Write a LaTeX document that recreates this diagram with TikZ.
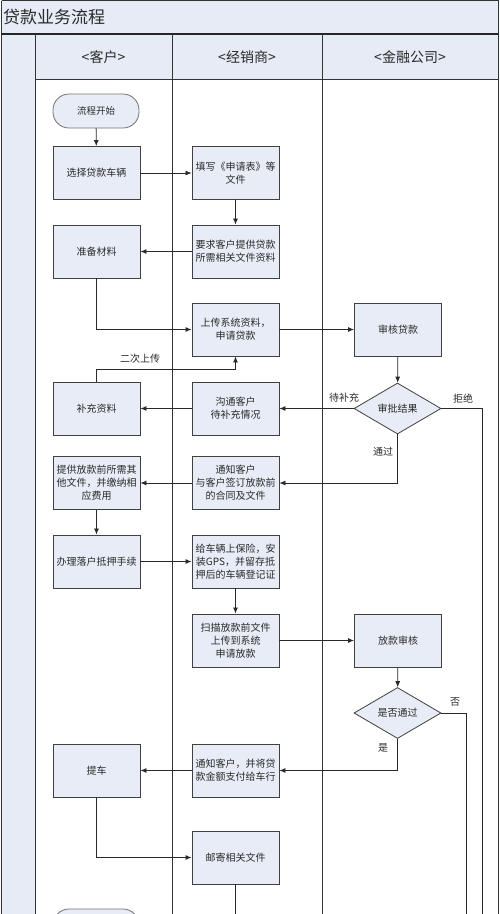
\documentclass[tikz,border=0pt]{standalone}
\usepackage{fontspec}
\setmainfont{Noto Sans CJK SC}
\usetikzlibrary{arrows.meta,shapes.geometric}
\definecolor{lanefill}{HTML}{E6EBF6}
\definecolor{boxfill}{HTML}{E8ECF6}
\definecolor{boxdraw}{HTML}{404040}
\definecolor{ink}{HTML}{2A2A2A}
\tikzset{
  proc/.style={draw=boxdraw, fill=boxfill, line width=0.9pt, minimum width=87pt, minimum height=53pt, inner sep=1pt, align=center, font=\fontsize{10}{13}\selectfont, text=ink},
  dec/.style={diamond, draw=boxdraw, fill=boxfill, line width=0.8pt, minimum width=87pt, minimum height=51pt, inner sep=0pt, aspect=1.7, font=\fontsize{10}{12}\selectfont, text=ink},
  term/.style={draw=black!55, fill=boxfill, line width=0.8pt, rounded corners=16pt, minimum width=86pt, minimum height=34pt, inner sep=0pt, font=\fontsize{9.5}{12}\selectfont, text=ink},
  arr/.style={draw=ink, line width=0.8pt, -{Latex[length=6pt,width=5pt]}},
  conn/.style={draw=ink, line width=0.8pt},
  lbl/.style={font=\fontsize{10}{12}\selectfont, text=ink, inner sep=0pt},
  lanehead/.style={font=\fontsize{14}{16}\selectfont, text=ink},
  laneline/.style={draw=black!80, line width=1pt}
}
\begin{document}
\begin{tikzpicture}[x=1pt,y=-1pt]
\useasboundingbox (0,0) rectangle (500,914);
\clip (0,0) rectangle (500,914);
\fill[white] (0,0) rectangle (500,914);
% title bar and lanes
\fill[lanefill] (1,0) rectangle (499,34);
\fill[lanefill] (2,34) rectangle (35,930);
\fill[lanefill] (35,34) rectangle (498,79);
\node[anchor=west, font=\fontsize{17}{20}\selectfont, text=ink, inner sep=0pt] (title) at (3,17) {贷款业务流程};
\draw[laneline] (1.5,0.5) -- (498.5,0.5);
\draw[laneline] (1.5,0.5) -- (1.5,930);
\draw[laneline] (498.5,0.5) -- (498.5,930);
\draw[draw=black!85, line width=1.4pt] (1,34) -- (499,34);
\draw[laneline] (35,79) -- (498,79);
\draw[laneline] (35,34) -- (35,930);
\draw[laneline] (172,34) -- (172,930);
\draw[laneline] (322,34) -- (322,930);
\node[lanehead] (h1) at (103.5,57) {<客户>};
\node[lanehead] (h2) at (247,57) {<经销商>};
\node[lanehead] (h3) at (410,57) {<金融公司>};
% nodes
\node[term] (start) at (96,111) {流程开始};
\node[proc] (n1) at (96.5,173) {选择贷款车辆};
\node[proc] (n2) at (235.5,173) {填写《申请表》等\\文件};
\node[proc] (n3) at (235.5,251.5) {要求客户提供贷款\\所需相关文件资料};
\node[proc] (n4) at (96.5,251.5) {准备材料};
\node[proc] (n5) at (235.5,329.5) {上传系统资料，\\申请贷款};
\node[proc] (n6) at (398,329.5) {审核贷款};
\node[dec] (d1) at (397.5,408.5) {审批结果};
\node[proc] (n7) at (235.5,408.5) {沟通客户\\待补充情况};
\node[proc] (n8) at (96.5,408.5) {补充资料};
\node[proc] (n9) at (96.5,483) {提供放款前所需其\\他文件，并缴纳相\\应费用};
\node[proc] (n10) at (235.5,483) {通知客户\\与客户签订放款前\\的合同及文件};
\node[proc] (n11) at (96.5,561.5) {办理落户抵押手续};
\node[proc] (n12) at (235.5,561.5) {给车辆上保险，安\\装GPS，并留存抵\\押后的车辆登记证};
\node[proc] (n13) at (235.5,640.5) {扫描放款前文件\\上传到系统\\申请放款};
\node[proc] (n14) at (398,640.5) {放款审核};
\node[dec] (d2) at (397.5,713) {是否通过};
\node[proc] (n15) at (235.5,770.5) {通知客户，并将贷\\款金额支付给车行};
\node[proc] (n16) at (96.5,770.5) {提车};
\node[proc] (n17) at (235.5,857.5) {邮寄相关文件};
\node[term] (endn) at (96,926) {};
\coordinate (b1) at (235.5,940);
\coordinate (b2) at (482,940);
\coordinate (b3) at (466,940);
% connectors
\draw[arr] (start) -- (n1);
\draw[arr] (n1) -- (n2);
\draw[arr] (n2) -- (n3);
\draw[arr] (n3) -- (n4);
\draw[arr] (n4.south) |- (n5.west);
\draw[arr] (n5) -- (n6);
\draw[arr] (n6) -- (d1);
\draw[arr] (d1.west) -- (n7.east);
\draw[arr] (n7) -- (n8);
\draw[arr] (n8.north) -- ++(0,-12) -| (n5.south);
\draw[arr] (d1.south) |- (n10.east);
\draw[arr] (n10) -- (n9);
\draw[arr] (n9) -- (n11);
\draw[arr] (n11) -- (n12);
\draw[arr] (n12) -- (n13);
\draw[arr] (n13) -- (n14);
\draw[arr] (n14) -- (d2);
\draw[arr] (d2.south) |- (n15.east);
\draw[arr] (n15) -- (n16);
\draw[arr] (n16.south) |- (n17.west);
\draw[conn] (n17.south) -- (b1);
\draw[conn] (d1.east) -| (b2);
\draw[conn] (d2.east) -| (b3);
% labels
\node[lbl] (l1) at (140,359) {二次上传};
\node[lbl] (l2) at (344,398) {待补充};
\node[lbl] (l3) at (463,399) {拒绝};
\node[lbl] (l4) at (383,452) {通过};
\node[lbl] (l5) at (455,702) {否};
\node[lbl] (l6) at (383,748) {是};
\end{tikzpicture}
\end{document}
